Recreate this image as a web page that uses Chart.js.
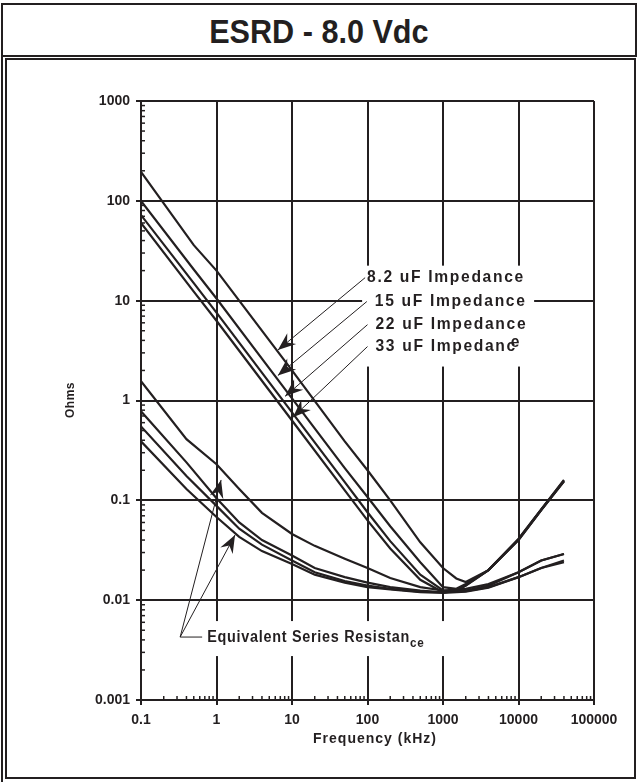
<!DOCTYPE html>
<html>
<head>
<meta charset="utf-8">
<script src="https://cdn.jsdelivr.net/npm/chart.js@4.4.1/dist/chart.umd.min.js"></script>
<style>
  html, body { margin: 0; padding: 0; background: #fff; }
  body { width: 639px; height: 782px; position: relative; overflow: hidden; font-family: "Liberation Sans", Arial, sans-serif; color: #231f20; }
  #outer { position: absolute; left: 1px; top: 3px; height: 779px; border-left: 2px solid #231f20; }
  #title { position: absolute; left: 1px; top: 3px; width: 632px; height: 50px; border: 2px solid #231f20; text-align: center; font-weight: bold; font-size: 34px; line-height: 50px; }
  #title span { display: inline-block; transform: scaleX(0.9); position: relative; top: 1px; }
  #frame { position: absolute; left: 5px; top: 58px; width: 627px; height: 717px; border: 2px solid #231f20; }
  canvas { position: absolute; left: 0; top: 0; }
</style>
</head>
<body>
<div id="outer"></div>
<div id="title"><span>ESRD - 8.0 Vdc</span></div>
<div id="frame"></div>
<canvas id="chart" width="639" height="782"></canvas>
<script>
const INK = '#231f20';

// frequency (kHz) for the impedance curves
const zFreq = [0.1, 0.5, 1, 5, 10, 50, 100, 200, 500, 1000, 1500, 2000, 4000, 10000, 20000, 40000];
const z8_2 = [195, 36, 20, 4.0, 2.0, 0.39, 0.2, 0.1, 0.038, 0.021, 0.0165, 0.0152, 0.02, 0.04, 0.08, 0.155];
const z15  = [100, 20.5, 10.5, 2.1, 1.05, 0.21, 0.108, 0.055, 0.024, 0.0135, 0.013, 0.0145, 0.02, 0.04, 0.08, 0.155];
const z22  = [72, 15, 7.6, 1.52, 0.76, 0.152, 0.076, 0.039, 0.018, 0.0125, 0.0125, 0.014, 0.02, 0.041, 0.081, 0.158];
const z33  = [60, 12.3, 6.3, 1.26, 0.63, 0.126, 0.063, 0.033, 0.016, 0.012, 0.0123, 0.014, 0.02, 0.041, 0.081, 0.16];

// frequency (kHz) for the ESR curves
const esrFreq = [0.1, 0.4, 1, 2, 4, 10, 20, 50, 100, 200, 500, 1000, 2000, 4000, 10000, 20000, 40000];
const esr1 = [1.56, 0.41, 0.23, 0.13, 0.075, 0.046, 0.035, 0.026, 0.021, 0.0167, 0.0135, 0.0125, 0.013, 0.0145, 0.019, 0.025, 0.029];
const esr2 = [0.78, 0.24, 0.105, 0.06, 0.04, 0.028, 0.021, 0.017, 0.015, 0.0135, 0.0125, 0.012, 0.0125, 0.014, 0.019, 0.025, 0.029];
const esr3 = [0.55, 0.175, 0.088, 0.052, 0.036, 0.025, 0.019, 0.0155, 0.014, 0.013, 0.0122, 0.012, 0.0123, 0.0135, 0.017, 0.021, 0.025];
const esr4 = [0.39, 0.13, 0.068, 0.043, 0.031, 0.023, 0.018, 0.015, 0.0135, 0.0128, 0.012, 0.0118, 0.0122, 0.0133, 0.017, 0.021, 0.024];

const xTicks = [0.1, 1, 10, 100, 1000, 10000, 100000];
const xTickLabels = ['0.1', '1', '10', '100', '1000', '10000', '100000'];
const yTicks = [0.001, 0.01, 0.1, 1, 10, 100, 1000];
const yTickLabels = ['0.001', '0.01', '0.1', '1', '10', '100', '1000'];

// callouts: [label, text anchor f, text anchor ohms, arrow tip f, arrow tip ohms]
const zLabels = [
  ['8.2 uF Impedance', 93, 17, 6.5, 3.2],
  ['15 uF Impedance', 98, 9.8, 6.5, 1.78],
  ['22 uF Impedance', 100, 5.75, 8.1, 1.1],
  ['33 uF Impedan', 100, 3.47, 10.3, 0.68]
];
const esrTips = [[1.15, 0.16], [1.76, 0.045]];

function pts(xs, ys) { return xs.map((x, i) => ({ x: x, y: ys[i] })); }

function series(label, xs, ys) {
  return { label: label, data: pts(xs, ys), showLine: true, borderColor: INK, borderWidth: 2.2, pointRadius: 0, tension: 0, fill: false };
}

function arrowHead(ctx, x0, y0, x1, y1) {
  const a = Math.atan2(y1 - y0, x1 - x0);
  const L = 18, W = 7, N = 12;
  ctx.save();
  ctx.translate(x1, y1);
  ctx.rotate(a);
  ctx.beginPath();
  ctx.moveTo(0, 0);
  ctx.lineTo(-L, -W);
  ctx.lineTo(-N, 0);
  ctx.lineTo(-L, W);
  ctx.closePath();
  ctx.fill();
  ctx.restore();
}

function leader(ctx, x0, y0, x1, y1) {
  ctx.beginPath();
  ctx.moveTo(x0, y0);
  ctx.lineTo(x1, y1);
  ctx.stroke();
  arrowHead(ctx, x0, y0, x1, y1);
}

// narrow bold text, like the original's condensed face
function narrowText(ctx, text, x, y, sx) {
  ctx.save();
  ctx.translate(x, y);
  ctx.scale(sx, 1);
  ctx.fillText(text, 0, 0);
  ctx.restore();
  return ctx.measureText(text).width * sx;
}

const decor = {
  id: 'decor',
  afterDraw(chart) {
    const ctx = chart.ctx;
    const xs = chart.scales.x, ys = chart.scales.y;
    const area = chart.chartArea;
    ctx.save();
    ctx.strokeStyle = INK;
    ctx.fillStyle = INK;

    // minor ticks inside the plot
    ctx.lineWidth = 1.5;
    for (let e = -1; e < 5; e++) {
      for (let k = 2; k < 10; k++) {
        const px = xs.getPixelForValue(k * Math.pow(10, e));
        ctx.beginPath(); ctx.moveTo(px, area.bottom); ctx.lineTo(px, area.bottom - 4); ctx.stroke();
      }
    }
    for (let e = -3; e < 3; e++) {
      for (let k = 2; k < 10; k++) {
        const py = ys.getPixelForValue(k * Math.pow(10, e));
        ctx.beginPath(); ctx.moveTo(area.left, py); ctx.lineTo(area.left + 4, py); ctx.stroke();
      }
    }

    // impedance callouts
    const bx0 = xs.getPixelForValue(zLabels[0][1]) - 3;
    const by0 = ys.getPixelForValue(zLabels[0][2]) - 12;
    const by1 = ys.getPixelForValue(zLabels[3][2]) + 20;
    ctx.fillStyle = '#fff';
    ctx.fillRect(bx0, by0, 172, by1 - by0);
    ctx.fillStyle = INK;
    ctx.textBaseline = 'middle';
    ctx.textAlign = 'left';
    ctx.lineWidth = 1;
    ctx.font = 'bold 17px "Liberation Sans", Arial, sans-serif';
    ctx.letterSpacing = '1.8px';
    zLabels.forEach(z => {
      const tx = xs.getPixelForValue(z[1]);
      const ty = ys.getPixelForValue(z[2]);
      const off = z[0].startsWith('8.2') ? 2 : 8;
      const w = narrowText(ctx, z[0], tx + off, ty, 0.92);
      if (z[0].endsWith('Impedan')) {
        const cw = narrowText(ctx, 'c', tx + off + w, ty, 0.92);
        narrowText(ctx, 'e', tx + off + w + cw * 0.4, ty - 4, 0.92);
      }
      leader(ctx, tx, ty, xs.getPixelForValue(z[3]), ys.getPixelForValue(z[4]));
    });

    // ESR callout
    const bx = xs.getPixelForValue(0.33), byy = ys.getPixelForValue(0.00427);
    ctx.fillStyle = '#fff';
    ctx.fillRect(bx + 23, byy - 16, 248, 35);
    ctx.fillStyle = INK;
    ctx.beginPath(); ctx.moveTo(bx, byy); ctx.lineTo(bx + 22, byy); ctx.stroke();
    esrTips.forEach(t => leader(ctx, bx, byy, xs.getPixelForValue(t[0]), ys.getPixelForValue(t[1])));
    ctx.font = 'bold 16px "Liberation Sans", Arial, sans-serif';
    ctx.letterSpacing = '0.8px';
    const sw = narrowText(ctx, 'Equivalent Series Resistan', bx + 27, byy + 1, 0.9);
    ctx.font = 'bold 13px "Liberation Sans", Arial, sans-serif';
    narrowText(ctx, 'ce', bx + 27 + sw, byy + 6, 0.9);

    // axis titles
    ctx.letterSpacing = '1px';
    ctx.font = 'bold 14px "Liberation Sans", Arial, sans-serif';
    ctx.textAlign = 'center';
    ctx.fillText('Frequency (kHz)', 375, area.bottom + 39);
    ctx.save();
    ctx.translate(71, 400);
    ctx.rotate(-Math.PI / 2);
    ctx.font = 'bold 12px "Liberation Sans", Arial, sans-serif';
    ctx.letterSpacing = '0.5px';
    ctx.fillText('Ohms', 0, 0);
    ctx.restore();
    ctx.restore();
  }
};

const tickFont = { family: '"Liberation Sans", Arial, sans-serif', size: 14, weight: 'bold' };

new Chart(document.getElementById('chart'), {
  type: 'scatter',
  data: {
    datasets: [
      series('8.2 uF Impedance', zFreq, z8_2),
      series('15 uF Impedance', zFreq, z15),
      series('22 uF Impedance', zFreq, z22),
      series('33 uF Impedance', zFreq, z33),
      series('ESR 1', esrFreq, esr1),
      series('ESR 2', esrFreq, esr2),
      series('ESR 3', esrFreq, esr3),
      series('ESR 4', esrFreq, esr4)
    ]
  },
  options: {
    responsive: false,
    animation: false,
    devicePixelRatio: 1,
    layout: { padding: { top: 101, right: 45, left: 0, bottom: 0 } },
    plugins: { legend: { display: false }, tooltip: { enabled: false } },
    scales: {
      x: {
        type: 'logarithmic', position: 'bottom', min: 0.1, max: 100000,
        afterBuildTicks: s => { s.ticks = xTicks.map(v => ({ value: v })); },
        afterFit: s => { s.height = 82; },
        ticks: { callback: (v, i) => xTickLabels[i], color: INK, font: tickFont, padding: 7, autoSkip: false, maxRotation: 0 },
        grid: { color: INK, lineWidth: 2, tickLength: 5 },
        border: { display: true, color: INK, width: 2 }
      },
      y: {
        type: 'logarithmic', position: 'left', min: 0.001, max: 1000,
        afterBuildTicks: s => { s.ticks = yTicks.map(v => ({ value: v })); },
        afterFit: s => { s.width = 141; },
        ticks: { callback: (v, i) => yTickLabels[i], color: INK, font: tickFont, padding: 6, autoSkip: false },
        grid: { color: INK, lineWidth: 2, tickLength: 5 },
        border: { display: true, color: INK, width: 2 }
      }
    }
  },
  plugins: [decor]
});
</script>
</body>
</html>
